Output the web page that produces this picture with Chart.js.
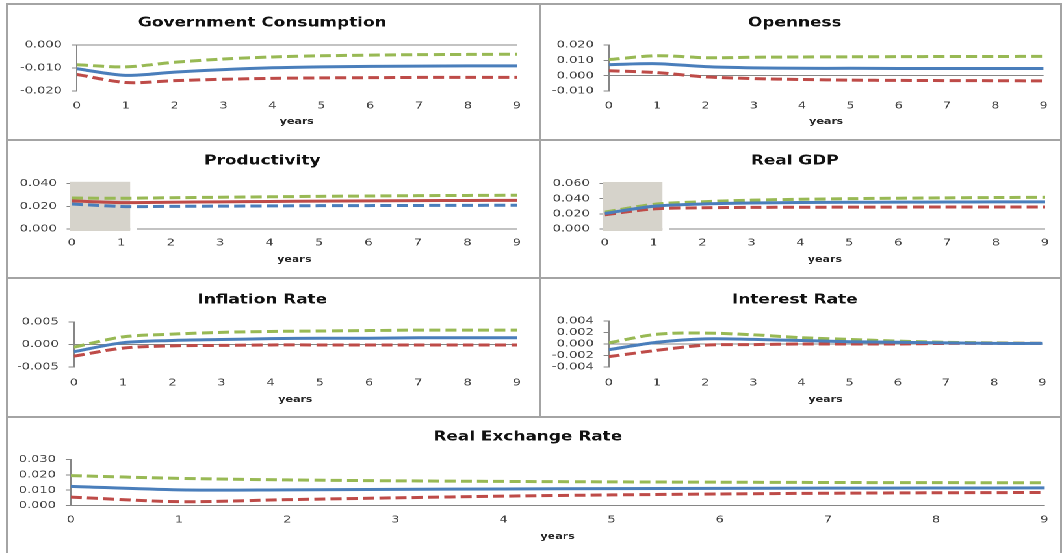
<!DOCTYPE html>
<html>
<head>
<meta charset="utf-8">
<script src="https://cdn.jsdelivr.net/npm/chart.js@4.4.1/dist/chart.umd.min.js"></script>
<style>
  html, body { margin: 0; padding: 0; background: #fff; }
  #page { position: relative; width: 1064px; height: 553px; overflow: hidden; background: #fff; }
  #stretch { position: absolute; left: 0; top: 0; width: 1064px; height: 553px;
             transform: scaleX(1.3); transform-origin: 0 0; }
  #stretch canvas { position: absolute; }
  .rule { position: absolute; background: #a4a4a4; }
</style>
</head>
<body>
<div id="page"><div id="stretch"></div></div>
<script>
// ---- data ---------------------------------------------------------------
const years = [0, 1, 2, 3, 4, 5, 6, 7, 8, 9];

const govTicks = [-0.02, -0.01, 0];
const govMean = [-0.0103, -0.0132, -0.0118, -0.0107, -0.0099, -0.0095, -0.0093, -0.0092, -0.0091, -0.0091];
const govLow  = [-0.0128, -0.0163, -0.0155, -0.0149, -0.0145, -0.0143, -0.0142, -0.0141, -0.0141, -0.0141];
const govHigh = [-0.0086, -0.0095, -0.0075, -0.0061, -0.0052, -0.0047, -0.0044, -0.0042, -0.0041, -0.0040];

const openTicks = [-0.01, 0, 0.01, 0.02];
const openMean = [0.0072, 0.0078, 0.0059, 0.0051, 0.0048, 0.0048, 0.0047, 0.0047, 0.0047, 0.0047];
const openLow  = [0.0032, 0.0020, -0.0008, -0.0019, -0.0025, -0.0029, -0.0031, -0.0032, -0.0033, -0.0034];
const openHigh = [0.0105, 0.0130, 0.0117, 0.0120, 0.0122, 0.0123, 0.0124, 0.0125, 0.0125, 0.0126];

const prodTicks = [0, 0.02, 0.04];
const prodMean = [0.0247, 0.0232, 0.0235, 0.0239, 0.0242, 0.0245, 0.0247, 0.0249, 0.0251, 0.0252];
const prodLow  = [0.0220, 0.0198, 0.0199, 0.0201, 0.0203, 0.0205, 0.0206, 0.0207, 0.0208, 0.0209];
const prodHigh = [0.0272, 0.0270, 0.0275, 0.0279, 0.0283, 0.0287, 0.0290, 0.0293, 0.0295, 0.0297];

const gdpTicks = [0, 0.02, 0.04, 0.06];
const gdpMean = [0.0205, 0.0300, 0.0330, 0.0343, 0.0349, 0.0352, 0.0354, 0.0356, 0.0357, 0.0358];
const gdpLow  = [0.0188, 0.0265, 0.0280, 0.0285, 0.0287, 0.0288, 0.0289, 0.0290, 0.0290, 0.0290];
const gdpHigh = [0.0222, 0.0325, 0.0360, 0.0380, 0.0392, 0.0400, 0.0406, 0.0411, 0.0415, 0.0418];

const inflTicks = [-0.005, 0, 0.005];
const inflMean = [-0.0016, 0.0004, 0.0009, 0.0011, 0.0013, 0.0014, 0.0014, 0.0015, 0.0015, 0.0015];
const inflLow  = [-0.0026, -0.0008, -0.0003, -0.0002, -0.0001, -0.0001, -0.0001, -0.0001, -0.0001, -0.0001];
const inflHigh = [-0.0006, 0.0017, 0.0023, 0.0027, 0.0029, 0.0030, 0.0031, 0.0032, 0.0032, 0.0032];

const rateTicks = [-0.004, -0.002, 0, 0.002, 0.004];
const rateMean = [-0.0010, 0.0003, 0.0009, 0.0008, 0.0006, 0.0004, 0.0003, 0.0002, 0.0001, 0.0001];
const rateLow  = [-0.0022, -0.0011, -0.0002, -0.0001, 0.0000, 0.0000, 0.0000, 0.0001, 0.0001, 0.0001];
const rateHigh = [0.0002, 0.0017, 0.0019, 0.0016, 0.0011, 0.0008, 0.0005, 0.0003, 0.0002, 0.0001];

const rerTicks = [0, 0.01, 0.02, 0.03];
const rerMean = [0.0125, 0.0102, 0.0102, 0.0105, 0.0108, 0.0110, 0.0112, 0.0113, 0.0114, 0.0115];
const rerLow  = [0.0055, 0.0025, 0.0038, 0.0050, 0.0061, 0.0069, 0.0075, 0.0080, 0.0083, 0.0085];
const rerHigh = [0.0195, 0.0177, 0.0167, 0.0161, 0.0157, 0.0154, 0.0152, 0.0150, 0.0149, 0.0148];

// shaded first-year window (x range in years) and its top in each panel
const shadeYears = [-0.04, 1.18];
const prodShadeTop = 0.0415;
const gdpShadeTop = 0.062;

// ---- styling --------------------------------------------------------------
const S = 1.3;                    // horizontal stretch applied to the whole figure
const BLUE = '#4a7ebb', RED = '#be4b48', GREEN = '#98b954';
const AXIS = '#868686';
const FAMILY = '"DejaVu Sans", Verdana, sans-serif';

function series(values, color, dashed) {
  return {
    data: years.map((x, i) => ({ x, y: values[i] })),
    borderColor: color,
    borderWidth: 3,
    borderDash: dashed ? [8.5, 4] : [],
    borderCapStyle: 'butt',
    pointRadius: 0,
    tension: 0.3,
    fill: false
  };
}

// grey box over the first year, drawn behind the lines
const shadePlugin = {
  id: 'shade',
  beforeDatasetsDraw(chart, args, opts) {
    if (!opts || !opts.x) return;
    const { ctx, scales: { x, y } } = chart;
    const l = x.getPixelForValue(opts.x[0]);
    const r = x.getPixelForValue(opts.x[1]);
    const t = y.getPixelForValue(opts.top);
    const b = y.getPixelForValue(0);
    ctx.save();
    ctx.fillStyle = '#ffffff';
    ctx.fillRect(r, b - 2, x.getPixelForValue(opts.x[1] + 0.13) - r, 4);
    ctx.fillStyle = '#d6d3cb';
    ctx.fillRect(l, t, r - l, b - t + 2);
    ctx.restore();
  }
};

function panel(cfg) {
  const [bx0, by0, bx1, by1] = cfg.box;        // panel rectangle on the page
  const [al, at, ar, ab] = cfg.area;            // plot rectangle on the page
  const W = Math.round((bx1 - bx0) / S), H = by1 - by0;
  const cv = document.createElement('canvas');
  cv.width = W; cv.height = H;
  cv.style.left = (bx0 / S) + 'px';
  cv.style.top = by0 + 'px';
  document.getElementById('stretch').appendChild(cv);

  const titleLH = 13 * 1.2;
  const titlePadTop = (cfg.titleY - by0) - titleLH / 2;
  const titlePadBottom = (at - by0) - titlePadTop - titleLH;
  const yWidth = (al - bx0) / S;
  const padRight = W - (ar - bx0) / S;
  const xHeight = by1 - ab;
  const tickPad = (cfg.labelY - ab) - 6;
  const yearsPad = (by1 - cfg.yearsY) - 8.5 * 1.2 / 2;
  const ticks = cfg.ticks;

  const plugins = cfg.shade ? [shadePlugin] : [];
  new Chart(cv, {
    type: 'line',
    data: { datasets: cfg.lines },
    plugins,
    options: {
      responsive: false,
      animation: false,
      events: [],
      devicePixelRatio: 2,
      layout: { padding: { left: 0, right: padRight, top: 0, bottom: 0 } },
      plugins: {
        legend: { display: false },
        tooltip: { enabled: false },
        title: {
          display: true,
          text: cfg.title,
          color: '#111',
          font: { family: FAMILY, size: 13, weight: 'bold' },
          padding: { top: titlePadTop, bottom: titlePadBottom }
        },
        shade: cfg.shade || false
      },
      scales: {
        x: {
          type: 'linear',
          min: years[0], max: years[years.length - 1],
          afterBuildTicks: s => { s.ticks = years.map(v => ({ value: v })); },
          afterFit: s => { s.height = xHeight; },
          grid: { display: false, drawTicks: false },
          border: { display: false },
          ticks: {
            color: '#424242',
            font: { family: FAMILY, size: 10 },
            padding: tickPad,
            maxRotation: 0,
            autoSkip: false
          },
          title: {
            display: true,
            text: 'years',
            color: '#262626',
            font: { family: FAMILY, size: 8.5, weight: 'bold' },
            padding: { top: 0, bottom: yearsPad }
          }
        },
        y: {
          type: 'linear',
          min: ticks[0], max: ticks[ticks.length - 1],
          afterBuildTicks: s => { s.ticks = ticks.map(v => ({ value: v })); },
          afterFit: s => { s.width = yWidth; },
          grid: {
            color: c => (c.tick && c.tick.value === 0) ? AXIS : 'rgba(0,0,0,0)',
            tickColor: AXIS,
            tickLength: 4,
            lineWidth: 1
          },
          border: { display: true, color: AXIS, width: 1 },
          ticks: {
            color: '#424242',
            font: { family: FAMILY, size: 10 },
            padding: 7.5,
            autoSkip: false,
            callback: v => Number(v).toFixed(3)
          }
        }
      }
    }
  });
}

// ---- panels ----------------------------------------------------------------
panel({
  title: 'Government Consumption', box: [8, 5, 539, 139], area: [77, 45, 517, 91],
  titleY: 23, labelY: 106, yearsY: 122, ticks: govTicks,
  lines: [series(govMean, BLUE, false), series(govLow, RED, true), series(govHigh, GREEN, true)]
});
panel({
  title: 'Openness', box: [541, 5, 1060, 139], area: [609, 45, 1049, 91],
  titleY: 23, labelY: 106, yearsY: 122, ticks: openTicks,
  lines: [series(openMean, BLUE, false), series(openLow, RED, true), series(openHigh, GREEN, true)]
});
panel({
  title: 'Productivity', box: [8, 141, 539, 277], area: [72, 183.5, 517, 229],
  titleY: 161, labelY: 243, yearsY: 260, ticks: prodTicks,
  shade: { x: shadeYears, top: prodShadeTop },
  lines: [series(prodMean, RED, false), series(prodLow, BLUE, true), series(prodHigh, GREEN, true)]
});
panel({
  title: 'Real GDP', box: [541, 141, 1060, 277], area: [605, 183.5, 1049, 229],
  titleY: 161, labelY: 243, yearsY: 260, ticks: gdpTicks,
  shade: { x: shadeYears, top: gdpShadeTop },
  lines: [series(gdpMean, BLUE, false), series(gdpLow, RED, true), series(gdpHigh, GREEN, true)]
});
panel({
  title: 'Inflation Rate', box: [8, 279, 539, 416], area: [74, 322, 517, 367],
  titleY: 300, labelY: 383, yearsY: 400, ticks: inflTicks,
  lines: [series(inflMean, BLUE, false), series(inflLow, RED, true), series(inflHigh, GREEN, true)]
});
panel({
  title: 'Interest Rate', box: [541, 279, 1060, 416], area: [609, 321, 1049, 367],
  titleY: 300, labelY: 383, yearsY: 400, ticks: rateTicks,
  lines: [series(rateMean, BLUE, false), series(rateLow, RED, true), series(rateHigh, GREEN, true)]
});
panel({
  title: 'Real Exchange Rate', box: [8, 418, 1060, 553], area: [71, 459.5, 1048, 505.5],
  titleY: 437, labelY: 520, yearsY: 537, ticks: rerTicks,
  lines: [series(rerMean, BLUE, false), series(rerLow, RED, true), series(rerHigh, GREEN, true)]
});

// ---- frame rules between the panels ---------------------------------------
const page = document.getElementById('page');
[
  [6, 3, 1056, 2], [6, 3, 2, 550], [1060, 3, 2, 550],
  [539, 3, 2, 415], [6, 139, 1056, 2], [6, 277, 1056, 2], [6, 416, 1056, 2]
].forEach(([l, t, w, h]) => {
  const d = document.createElement('div');
  d.className = 'rule';
  d.style.left = l + 'px'; d.style.top = t + 'px';
  d.style.width = w + 'px'; d.style.height = h + 'px';
  page.appendChild(d);
});
</script>
</body>
</html>
